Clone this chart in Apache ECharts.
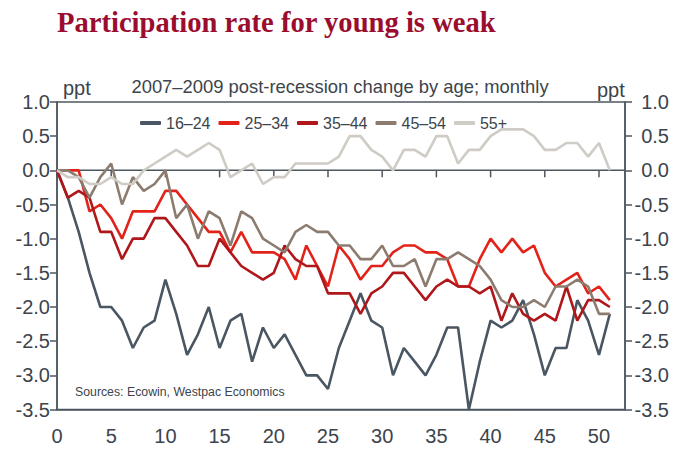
<!DOCTYPE html>
<html>
<head>
<meta charset="utf-8">
<script src="https://cdn.jsdelivr.net/npm/echarts@6/dist/echarts.min.js"></script>
<style>
html,body{margin:0;padding:0;background:#fff;}
#chart{width:685px;height:453px;}
</style>
</head>
<body>
<div id="chart"></div>
<script>
// Data (ppt change, months after recession end 0..51)
const seriesNames = ['16\u201324', '25\u201334', '35\u201344', '45\u201354', '55+'];
const age16_24 = [0, -0.4, -0.9, -1.5, -2.0, -2.0, -2.2, -2.6, -2.3, -2.2, -1.6, -2.1, -2.7, -2.4, -2.0, -2.6, -2.2, -2.1, -2.8, -2.3, -2.6, -2.4, -2.7, -3.0, -3.0, -3.2, -2.6, -2.2, -1.8, -2.2, -2.3, -3.0, -2.6, -2.8, -3.0, -2.7, -2.3, -2.3, -3.5, -2.8, -2.2, -2.3, -2.2, -1.9, -2.4, -3.0, -2.6, -2.6, -1.9, -2.2, -2.7, -2.1];
const age25_34 = [0, 0, 0, -0.6, -0.5, -0.7, -1.0, -0.6, -0.6, -0.6, -0.3, -0.3, -0.5, -0.7, -0.9, -0.9, -1.2, -0.9, -1.2, -1.2, -1.2, -1.3, -1.6, -1.1, -1.4, -1.7, -1.1, -1.3, -1.6, -1.4, -1.4, -1.2, -1.1, -1.1, -1.2, -1.2, -1.3, -1.7, -1.7, -1.3, -1.0, -1.2, -1.0, -1.2, -1.1, -1.5, -1.7, -1.6, -1.5, -1.8, -1.7, -1.9];
const age35_44 = [0, -0.4, -0.3, -0.4, -0.9, -0.9, -1.3, -1.0, -1.0, -0.7, -0.7, -0.9, -1.1, -1.4, -1.4, -1.0, -1.2, -1.4, -1.5, -1.6, -1.5, -1.1, -1.3, -1.4, -1.4, -1.8, -1.8, -1.8, -2.1, -1.8, -1.7, -1.5, -1.5, -1.7, -1.9, -1.7, -1.6, -1.7, -1.7, -1.8, -1.7, -2.2, -1.8, -2.1, -2.2, -2.1, -2.2, -1.7, -2.2, -1.9, -1.9, -2.0];
const age45_54 = [0, 0, -0.1, -0.4, -0.1, 0.1, -0.5, -0.1, -0.3, -0.2, 0, -0.7, -0.5, -1.0, -0.6, -0.7, -1.1, -0.6, -0.7, -1.0, -1.1, -1.2, -0.9, -0.8, -0.9, -0.9, -1.1, -1.1, -1.3, -1.3, -1.1, -1.4, -1.4, -1.3, -1.7, -1.3, -1.3, -1.2, -1.3, -1.4, -1.6, -1.9, -2.0, -2.0, -1.9, -2.0, -1.7, -1.7, -1.6, -1.7, -2.1, -2.1];
const age55plus = [0, -0.1, -0.1, -0.2, -0.2, -0.1, -0.2, -0.2, 0, 0.1, 0.2, 0.3, 0.2, 0.3, 0.4, 0.3, -0.1, 0, 0.1, -0.2, -0.1, -0.1, 0.1, 0.1, 0.1, 0.1, 0.2, 0.5, 0.5, 0.3, 0.2, 0, 0.3, 0.3, 0.2, 0.5, 0.5, 0.1, 0.3, 0.3, 0.5, 0.6, 0.6, 0.6, 0.5, 0.3, 0.3, 0.4, 0.4, 0.2, 0.4, 0];
const xTicks = [0, 5, 10, 15, 20, 25, 30, 35, 40, 45, 50];
const yTicks = [1.0, 0.5, 0.0, -0.5, -1.0, -1.5, -2.0, -2.5, -3.0, -3.5];

const titleText = 'Participation rate for young is weak';
const subtitleText = '2007\u20132009 post-recession change by age; monthly';
const unitText = 'ppt';
const sourceText = 'Sources: Ecowin, Westpac Economics';

const colors = ['#4a5662', '#e2231a', '#b0171b', '#8c7c70', '#cfcbc5'];
const allValues = [age16_24, age25_34, age35_44, age45_54, age55plus];

const axisColor = '#4d5760';
const labelColor = '#3c444c';
const font = 'Liberation Sans, Arial, sans-serif';

const chart = echarts.init(document.getElementById('chart'), null, {renderer: 'svg'});

const yAxisCommon = {
  type: 'value', min: -3.5, max: 1.0, interval: 0.5,
  splitLine: {show: false},
  axisLine: {show: true, lineStyle: {color: axisColor, width: 1.5}},
  axisTick: {show: true, length: 7, lineStyle: {color: axisColor, width: 1.5}},
  axisLabel: {color: labelColor, fontSize: 20, fontFamily: font,
    formatter: v => v.toFixed(1)}
};

const lineSeries = seriesNames.map((name, i) => ({
  name: name,
  type: 'line',
  xAxisIndex: 0,
  yAxisIndex: 0,
  symbol: 'none',
  z: 3,
  lineStyle: {width: 2.6, color: colors[i]},
  itemStyle: {color: colors[i]},
  data: allValues[i].map((v, k) => [k, v])
}));

// zero line with tick marks hanging below it, placed through the axes
const zeroAxisSeries = {
  name: 'zeroAxis',
  type: 'custom',
  xAxisIndex: 0,
  yAxisIndex: 0,
  silent: true,
  z: 2,
  clip: false,
  data: xTicks.map(t => [t, 0]),
  renderItem: function (params, api) {
    const p = api.coord([api.value(0), api.value(1)]);
    const children = [{
      type: 'line',
      shape: {x1: p[0], y1: p[1], x2: p[0], y2: p[1] + 7},
      style: {stroke: axisColor, lineWidth: 1.5}
    }];
    if (params.dataIndex === 0) {
      const end = api.coord([52.4, 0]);
      children.push({
        type: 'line',
        shape: {x1: p[0], y1: p[1], x2: end[0], y2: end[1]},
        style: {stroke: axisColor, lineWidth: 1.5}
      });
    }
    return {type: 'group', children: children};
  }
};

chart.setOption({
  animation: false,
  backgroundColor: '#fff',
  color: colors,
  title: [
    {text: titleText, left: 52, top: 3,
     textStyle: {fontFamily: 'Liberation Serif, Times New Roman, serif', fontWeight: 'bold', fontSize: 28.6, color: '#9b0d2e'}},
    {text: subtitleText, left: 335, top: 72, textAlign: 'center',
     textStyle: {fontFamily: font, fontWeight: 'normal', fontSize: 18.4, color: labelColor}},
    {text: unitText, left: 58, top: 73,
     textStyle: {fontFamily: font, fontWeight: 'normal', fontSize: 20, color: labelColor}},
    {text: unitText, left: 592, top: 75,
     textStyle: {fontFamily: font, fontWeight: 'normal', fontSize: 20, color: labelColor}},
    {text: sourceText, left: 70, top: 381,
     textStyle: {fontFamily: font, fontWeight: 'normal', fontSize: 12.3, color: labelColor}}
  ],
  legend: {
    left: 135, top: 110, z: 20,
    itemWidth: 21, itemHeight: 4, itemGap: 8,
    icon: 'roundRect',
    textStyle: {fontFamily: font, fontSize: 16, color: labelColor},
    data: seriesNames
  },
  grid: {left: 57, right: 60, top: 102, bottom: 43.5, show: true,
    borderColor: axisColor, borderWidth: 1.5, backgroundColor: 'transparent'},
  xAxis: [
    {type: 'value', min: 0, max: 52.4, interval: 5,
     axisLine: {show: true, onZero: false, lineStyle: {color: axisColor, width: 1.5}},
     axisTick: {show: false},
     splitLine: {show: false},
     axisLabel: {color: labelColor, fontSize: 20, fontFamily: font, margin: 16,
       showMaxLabel: false,
       formatter: v => (xTicks.indexOf(v) >= 0 ? String(v) : '')}
    }
  ],
  yAxis: [
    Object.assign({}, yAxisCommon, {position: 'left', axisLabel: Object.assign({}, yAxisCommon.axisLabel, {margin: 7})}),
    Object.assign({}, yAxisCommon, {position: 'right', axisLabel: Object.assign({}, yAxisCommon.axisLabel, {margin: 44, align: 'right'})})
  ],
  series: lineSeries.concat([zeroAxisSeries])
});
</script>
</body>
</html>
